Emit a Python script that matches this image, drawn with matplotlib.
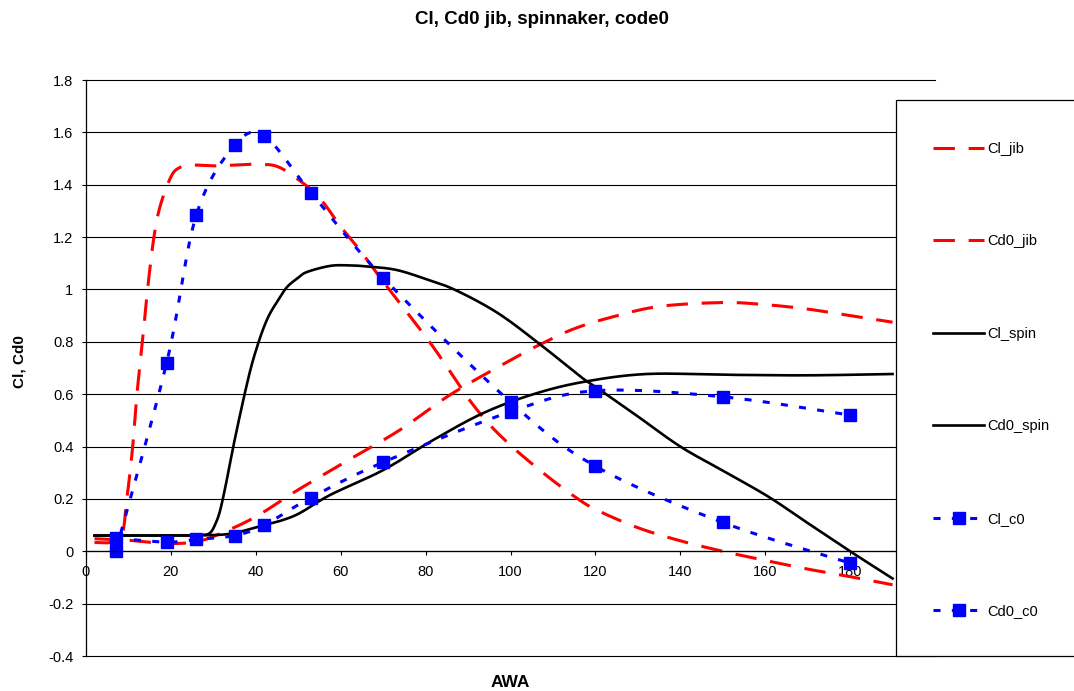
import matplotlib
matplotlib.use("Agg")
import matplotlib.pyplot as plt
from matplotlib.patches import Rectangle
import numpy as np

plt.rcParams['font.family'] = ['Liberation Sans', 'DejaVu Sans']

# values
awa_jib_cl = [2, 8, 9.6, 11, 12, 13.3, 14.5, 16, 17.5, 20, 22, 25, 30, 35, 40, 45, 50, 55, 60,
              65, 70, 80, 85, 90, 95, 100, 105, 110, 115, 120, 130, 140, 150, 160, 170, 180, 190]
cl_jib = [0.033, 0.05, 0.2, 0.4, 0.6, 0.8, 1.0, 1.2, 1.32, 1.43, 1.465, 1.475, 1.472, 1.475, 1.478,
          1.47, 1.42, 1.35, 1.24, 1.14, 1.03, 0.82, 0.705, 0.585, 0.485, 0.405, 0.335, 0.27,
          0.21, 0.16, 0.09, 0.04, 0.0, -0.035, -0.068, -0.097, -0.128]

awa_jib_cd = [2, 10, 16, 22, 27, 32, 40, 50, 62, 74, 86, 100, 107, 115, 124, 135, 150, 160, 170, 180, 190]
cd0_jib = [0.048, 0.042, 0.033, 0.03, 0.04, 0.07, 0.132, 0.235, 0.35, 0.464, 0.60, 0.73, 0.79,
           0.85, 0.895, 0.935, 0.95, 0.942, 0.925, 0.90, 0.875]

awa_spin_cl = [2, 10, 20, 27, 29.2, 30.5, 31.5, 32.5, 33.5, 34.7, 36, 37.5, 39, 40.6, 42, 43.4,
               45.5, 47.4, 50, 52.1, 57.5, 62, 66, 73, 80, 87, 97, 107, 116.5, 121, 130, 140,
               150, 160.6, 170, 180, 190]
cl_spin = [0.06, 0.06, 0.06, 0.062, 0.07, 0.105, 0.15, 0.22, 0.30, 0.40, 0.50, 0.61, 0.71, 0.796,
           0.86, 0.91, 0.965, 1.01, 1.045, 1.067, 1.09, 1.092, 1.088, 1.075, 1.04, 0.998, 0.91,
           0.79, 0.667, 0.617, 0.515, 0.40, 0.308, 0.21, 0.108, 0.0, -0.104]

awa_spin_cd = [2, 10, 20, 30, 35, 42, 46.5, 50.5, 57.5, 70, 81.8, 93.6, 105.4, 117.2, 132, 151, 170, 190]
cd0_spin = [0.06, 0.06, 0.06, 0.062, 0.07, 0.1, 0.12, 0.147, 0.215, 0.31, 0.425, 0.528, 0.60,
            0.647, 0.677, 0.674, 0.672, 0.677]

awa_c0 = [7, 19, 26, 35, 42, 53, 70, 100, 120, 150, 180]
cl_c0 = [0.0, 0.72, 1.285, 1.55, 1.585, 1.37, 1.045, 0.57, 0.325, 0.11, -0.045]
cd0_c0 = [0.05, 0.035, 0.045, 0.06, 0.1, 0.205, 0.34, 0.533, 0.613, 0.59, 0.52]


def smooth(xs, ys, n=16):
    # Excel-like smoothed line (bezier through the points)
    p = np.column_stack([xs, ys]).astype(float)
    p = np.vstack([p[0], p, p[-1]])
    t = np.linspace(0, 1, n, endpoint=False)[:, None]
    out = []
    for i in range(1, len(p) - 2):
        p0, p1, p2, p3 = p[i - 1], p[i], p[i + 1], p[i + 2]
        c1 = p1 + (p2 - p0) / 6
        c2 = p2 - (p3 - p1) / 6
        out.append((1 - t) ** 3 * p1 + 3 * (1 - t) ** 2 * t * c1 + 3 * (1 - t) * t ** 2 * c2 + t ** 3 * p2)
    out.append(p[-2][None])
    res = np.vstack(out)
    return res[:, 0], res[:, 1]


fig = plt.figure(figsize=(10.74, 6.91), dpi=100)
ax = fig.add_axes([86 / 1074, 1 - 656 / 691, (935 - 86) / 1074, (656 - 80) / 691])

red_dash = dict(color="#FF0000", lw=2.2, dashes=(7, 4.5))
blue_dot = dict(color="#0000FF", lw=2.2, dashes=(2.3, 3.7), marker="s", markersize=9,
                markeredgecolor="#0000FF", markerfacecolor="#0000FF")

handles = []
x, y = smooth(awa_jib_cl, cl_jib)
handles += ax.plot(x, y, label="Cl_jib", **red_dash)
x, y = smooth(awa_jib_cd, cd0_jib)
handles += ax.plot(x, y, label="Cd0_jib", **red_dash)
x, y = smooth(awa_spin_cl, cl_spin)
handles += ax.plot(x, y, label="Cl_spin", color="black", lw=1.9)
x, y = smooth(awa_spin_cd, cd0_spin)
handles += ax.plot(x, y, label="Cd0_spin", color="black", lw=1.9)

for vals, name in [(cl_c0, "Cl_c0"), (cd0_c0, "Cd0_c0")]:
    x, y = smooth(awa_c0, vals)
    ln, = ax.plot(x, y, markevery=list(range(0, len(x), 16)), label=name, **blue_dot)
    handles.append(ln)

ax.set_xlim(0, 200)
ax.set_ylim(-0.4, 1.8)
ax.set_xticks(np.arange(0, 201, 20))
yt = np.round(np.arange(-0.4, 1.81, 0.2), 1)
ax.set_yticks(yt)
ax.set_yticklabels([f"{v:g}" for v in yt])
ax.yaxis.grid(True, color="black", lw=0.8)
for gl in ax.get_ygridlines():
    gl.set_clip_on(False)
ax.set_axisbelow(True)

for s in ["top", "right"]:
    ax.spines[s].set_visible(False)
ax.spines["bottom"].set_position(("data", 0))
ax.spines["left"].set_linewidth(0.9)
ax.spines["bottom"].set_linewidth(0.9)
ax.tick_params(axis="both", direction="out", length=3, width=0.8, labelsize=10.5, colors="black")
ax.tick_params(axis="x", pad=7)
ax.tick_params(axis="y", pad=6)

ax.set_xlabel("AWA", fontsize=12.5, fontweight="bold")
ax.xaxis.set_label_coords(0.5, -0.033)
ax.set_ylabel("Cl, Cd0", fontsize=11, fontweight="bold")
ax.yaxis.set_label_coords(-0.070, 0.512)

fig.text(542 / 1074, 1 - 19 / 691, "Cl, Cd0 jib, spinnaker, code0", ha="center", va="center",
         fontsize=13.5, fontweight="bold")

# legend box sitting over the right part of the plot
box = Rectangle((896 / 1074, 1 - 656 / 691), 0.2, (656 - 100) / 691, transform=fig.transFigure,
                facecolor="white", edgecolor="black", lw=0.9, zorder=5)
fig.add_artist(box)

leg = fig.legend(handles=handles, loc="upper left", bbox_to_anchor=(933 / 1074, 1 - 142 / 691),
                 frameon=False, fontsize=10.5, borderpad=0, borderaxespad=0, labelspacing=5.38,
                 handlelength=3.5, handletextpad=0.2, numpoints=1)
leg.set_zorder(6)

fig.savefig("out.png", dpi=100)
